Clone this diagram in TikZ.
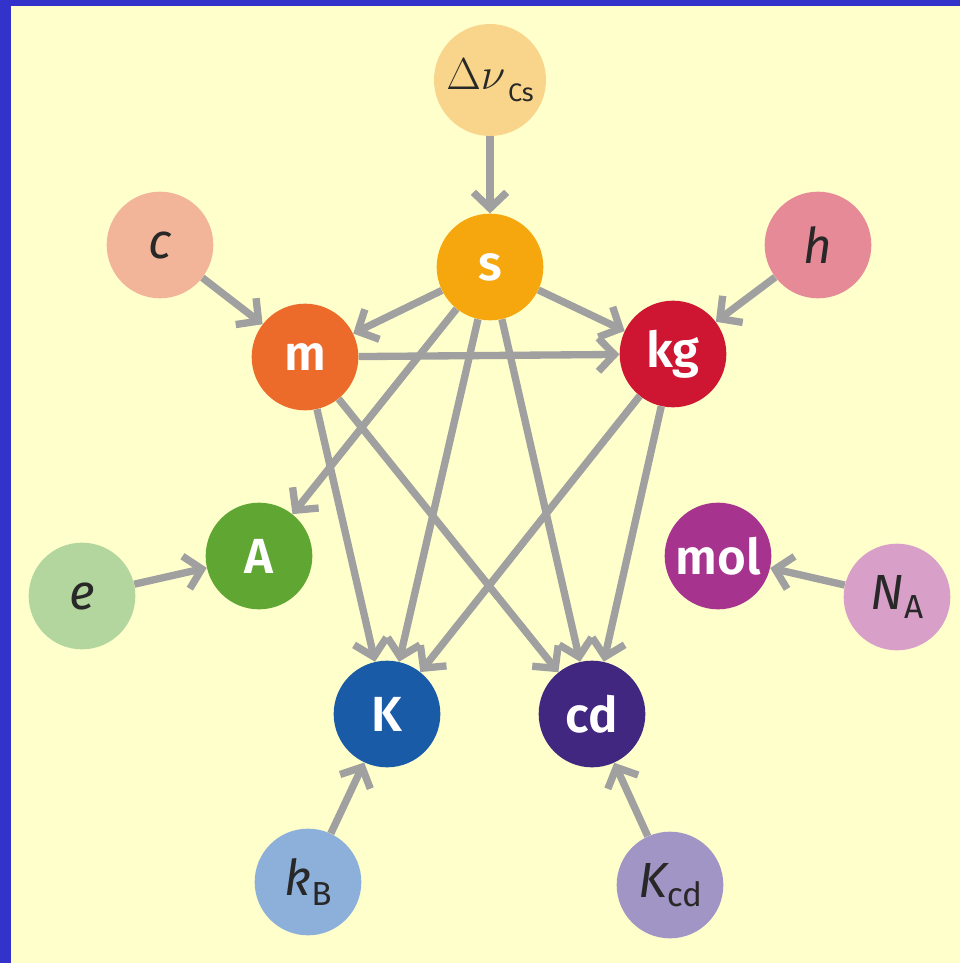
\documentclass[tikz,border=0pt]{standalone}
\usepackage{graphicx}
\usepackage{fontspec}
\setmainfont{Fira Sans}[BoldFont={Fira Sans SemiBold}]
\usetikzlibrary{arrows.meta}
\definecolor{bgblue}{RGB}{51,51,204}
\definecolor{bgyellow}{RGB}{255,255,204}
\definecolor{arrgray}{RGB}{160,160,160}
\definecolor{txtdark}{RGB}{40,40,40}
\definecolor{cDnu}{RGB}{249,213,139}
\definecolor{cs}{RGB}{246,167,14}
\definecolor{cc}{RGB}{242,181,154}
\definecolor{ch}{RGB}{230,138,152}
\definecolor{cm}{RGB}{236,106,42}
\definecolor{ckg}{RGB}{206,21,49}
\definecolor{cA}{RGB}{95,166,51}
\definecolor{ce}{RGB}{179,214,158}
\definecolor{cmol}{RGB}{166,51,141}
\definecolor{cNA}{RGB}{216,159,200}
\definecolor{cK}{RGB}{26,91,168}
\definecolor{ccd}{RGB}{65,39,127}
\definecolor{ckB}{RGB}{141,176,219}
\definecolor{cKcd}{RGB}{161,149,198}
\tikzset{
  unitnode/.style={circle, minimum size=80pt, inner sep=0pt, text=white,
    font=\fontsize{37}{37}\selectfont\bfseries},
  constnode/.style={circle, minimum size=80pt, inner sep=0pt, text=txtdark,
    font=\fontsize{37}{37}\selectfont},
  arr/.style={draw=arrgray, line width=5.5pt,
    -{Straight Barb[length=12pt,width=25pt]}}
}
\newcommand{\subsf}[1]{{\fontsize{25}{25}\selectfont\raisebox{-7pt}{#1}}}
\begin{document}
\begin{tikzpicture}[x=0.75pt,y=-0.75pt]
\fill[bgblue] (0,0) rectangle (960,963);
\fill[bgyellow] (11,6) rectangle (960,963);
\useasboundingbox (0,0) rectangle (960,963);

\node[constnode, fill=cDnu, minimum size=84pt] (dnu) at (490,80) {{\fontsize{24.88}{25}\selectfont\scalebox{1.35}{$\Delta\nu$}}\hspace{2pt}{\fontsize{19}{19}\selectfont\raisebox{-9pt}{Cs}}};
\node[unitnode, fill=cs] (s) at (490,267) {s};
\node[constnode, fill=cc] (c) at (160,245) {\itshape c};
\node[constnode, fill=ch] (h) at (818,245) {\itshape h};
\node[unitnode, fill=cm] (m) at (305,357) {m};
\node[unitnode, fill=ckg] (kg) at (673,354) {kg};
\node[unitnode, fill=cA] (A) at (259,556) {A};
\node[constnode, fill=ce] (e) at (82,596) {\itshape e};
\node[unitnode, fill=cmol] (mol) at (718,556) {mol};
\node[constnode, fill=cNA] (NA) at (897,597) {\itshape N\subsf{\upshape A}};
\node[unitnode, fill=cK] (K) at (387,714) {K};
\node[unitnode, fill=ccd] (cd) at (592,714) {cd};
\node[constnode, fill=ckB] (kB) at (308,882) {\itshape k\subsf{\upshape B}};
\node[constnode, fill=cKcd] (Kcd) at (670,885) {\itshape K\subsf{\upshape cd}};

\draw[arr] (dnu) -- (s);
\draw[arr] (c) -- (m);
\draw[arr] (h) -- (kg);
\draw[arr] (s) -- (m);
\draw[arr] (s) -- (kg);
\draw[arr] (m) -- (kg);
\draw[arr] (s) -- (A);
\draw[arr] (s) -- (K);
\draw[arr] (s) -- (cd);
\draw[arr] (m) -- (K);
\draw[arr] (m) -- (cd);
\draw[arr] (kg) -- (K);
\draw[arr] (kg) -- (cd);
\draw[arr] (e) -- (A);
\draw[arr] (NA) -- (mol);
\draw[arr] (kB) -- (K);
\draw[arr] (Kcd) -- (cd);
\end{tikzpicture}
\end{document}
